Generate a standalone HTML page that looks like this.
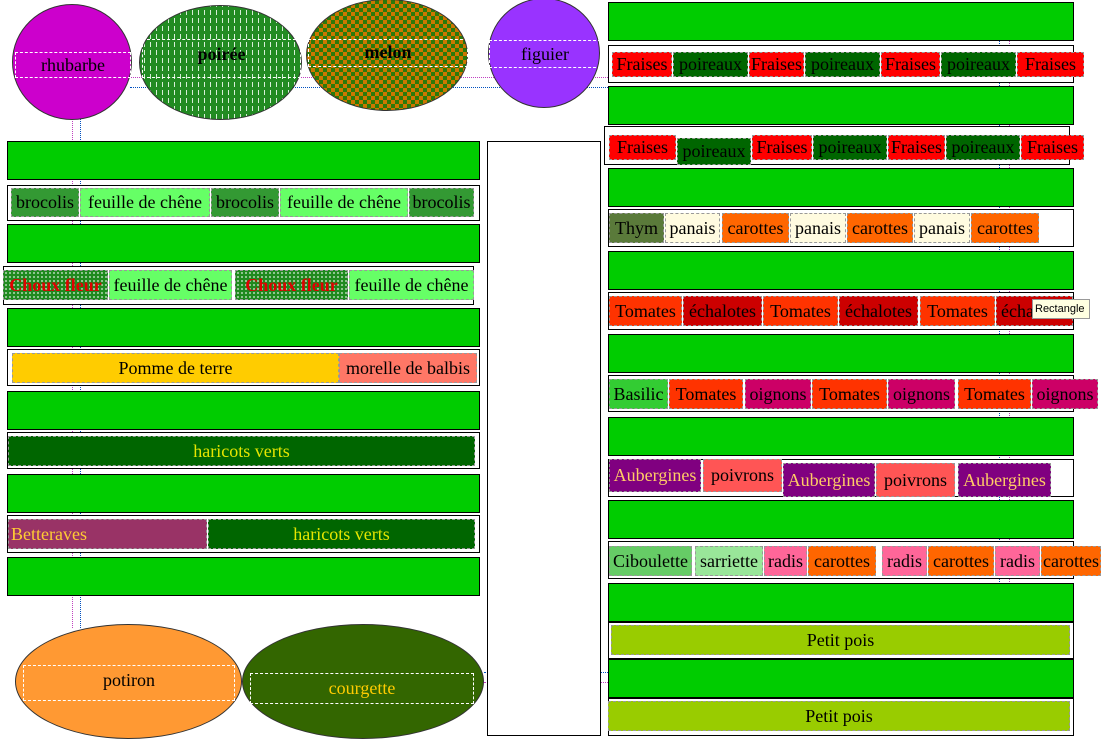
<!DOCTYPE html>
<html><head><meta charset="utf-8"><style>
html,body{margin:0;padding:0;background:#fff;}
#root{position:relative;width:1101px;height:755px;overflow:hidden;background:#fff;font-family:"Liberation Serif",serif;font-size:18px;}
.a{position:absolute;box-sizing:border-box;}
.g{background:#00cc00;border:1px solid #000;}
.box{border:1px solid #000;background:#fff;}
.c{position:absolute;box-sizing:border-box;border:1px dashed #999;display:flex;align-items:center;justify-content:center;white-space:nowrap;overflow:hidden;color:#000;}
.ell{position:absolute;border:1px solid #333;border-radius:50%;box-sizing:border-box;}
.lbl{position:absolute;display:flex;align-items:center;justify-content:center;box-sizing:border-box;border:1px dashed #fff;}
.gl{position:absolute;}
</style></head><body>
<div id="root">
<div class="gl" style="left:130px;top:77px;width:478px;border-top:1px dotted #c040c0"></div>
<div class="gl" style="left:130px;top:87px;width:478px;border-top:1px dotted #0050c0"></div>
<div class="gl" style="left:72px;top:118px;height:510px;border-left:1px dotted #c040c0"></div>
<div class="gl" style="left:80px;top:118px;height:510px;border-left:1px dotted #0050c0"></div>
<div class="gl" style="left:484px;top:672px;width:124px;border-top:1px dotted #0050c0"></div>
<div class="gl" style="left:484px;top:682px;width:124px;border-top:1px dotted #c040c0"></div>
<div class="gl" style="left:999px;top:40px;height:620px;border-left:1px dotted #0050c0"></div>
<div class="gl" style="left:1009px;top:40px;height:620px;border-left:1px dotted #c040c0"></div>

<div class="ell" style="left:12px;top:4px;width:120px;height:116px;background:#cc00cc">
 <div class="lbl" style="left:2px;top:47px;width:116px;height:26px;">rhubarbe</div></div>
<div class="ell" style="left:139px;top:5px;width:163px;height:115px;background-color:#228b22;background-image:repeating-linear-gradient(0deg,transparent 0 5px,#228b22 5px 8px),repeating-linear-gradient(90deg,#228b22 0 4px,#d8efd8 4px 5px,#228b22 5px 6px);">
 <div class="lbl" style="left:2px;top:33px;width:159px;height:39px;align-items:flex-start;font-weight:bold;padding-top:4px">poirée</div></div>
<div class="ell" style="left:306px;top:-1px;width:162px;height:112px;background-color:#cc7700;background-image:linear-gradient(45deg,#2a7a0a 25%,transparent 25%,transparent 75%,#2a7a0a 75%),linear-gradient(45deg,#2a7a0a 25%,transparent 25%,transparent 75%,#2a7a0a 75%);background-size:8px 8px;background-position:0 0,4px 4px;">
 <div class="lbl" style="left:1px;top:39px;width:160px;height:28px;font-weight:bold;align-items:flex-start;padding-top:2px">melon</div></div>
<div class="ell" style="left:488px;top:-2px;width:112px;height:110px;background:#9933ff">
 <div class="lbl" style="left:0;top:41px;width:112px;height:28px;">figuier</div></div>

<div class="ell" style="left:15px;top:624px;width:227px;height:115px;background:#ff9933">
 <div class="lbl" style="left:7px;top:40px;width:212px;height:36px;padding-bottom:6px">potiron</div></div>
<div class="ell" style="left:242px;top:624px;width:242px;height:115px;background:#336600">
 <div class="lbl" style="left:7px;top:48px;width:224px;height:31px;color:#ffcc00">courgette</div></div>

<div class="a box" style="left:487px;top:141px;width:114px;height:595px"></div>

<div class="a" style="left:1032px;top:299px;width:58px;height:20px;background:#ffffe1;border:1px solid #999;font-family:'Liberation Sans',sans-serif;font-size:11px;line-height:18px;padding-left:2px;z-index:5">Rectangle</div>
</div>
<script>
const root=document.getElementById('root');
const leftGreen=[141,224,308,391,474,557];
const rightGreen=[2,86,168,251,334,417,500,583,659];
const leftBoxes=[[7,185,473,36],[3,266,471,39],[7,349,473,37],[7,432,473,37],[7,515,473,38]];
const rightBoxes=[[608,45,466,38],[604,126,466,39],[608,209,466,38],[608,292,466,38],[608,375,466,37],[608,459,466,38],[608,541,466,38],[608,622,466,37],[608,698,466,38]];
const cells=[
 ['brocolis',11,79,188,217,'#339933','#000'],['feuille de chêne',80,210,188,217,'#66ff66','#000'],['brocolis',211,279,188,217,'#339933','#000'],['feuille de chêne',280,408,188,217,'#66ff66','#000'],['brocolis',409,474,188,217,'#339933','#000'],
 ['Choux fleur',3,108,270,300,'#1f8a1f','#e00000',1],['feuille de chêne',109,232,270,300,'#66ff66','#000'],['Choux fleur',235,348,270,300,'#1f8a1f','#e00000',1],['feuille de chêne',349,474,270,300,'#66ff66','#000'],
 ['Pomme de terre',12,339,353,383,'#ffcc00','#000'],['morelle de balbis',339,477,353,383,'#ff7766','#000'],
 ['haricots verts',8,475,436,466,'#006600','#e6e600'],
 ['Betteraves',8,207,519,549,'#993366','#ffcc33'],['haricots verts',208,475,519,549,'#006600','#e6e600'],
 ['Fraises',612,672,52,77,'#ff0000','#000'],['poireaux',673,748,52,77,'#006600','#000'],['Fraises',749,804,52,77,'#ff0000','#000'],['poireaux',805,880,52,77,'#006600','#000'],['Fraises',881,940,52,77,'#ff0000','#000'],['poireaux',941,1016,52,77,'#006600','#000'],['Fraises',1017,1084,52,77,'#ff0000','#000'],
 ['Fraises',609,676,135,160,'#ff0000','#000'],['poireaux',677,751,138,165,'#006600','#000'],['Fraises',752,812,135,160,'#ff0000','#000'],['poireaux',813,887,135,160,'#006600','#000'],['Fraises',888,945,135,160,'#ff0000','#000'],['poireaux',946,1020,135,160,'#006600','#000'],['Fraises',1021,1084,135,160,'#ff0000','#000'],
 ['Thym',609,664,213,243,'#5a7a3a','#000'],['panais',665,720,213,243,'#fffbe0','#000'],['carottes',722,789,213,243,'#ff6600','#000'],['panais',790,846,213,243,'#fffbe0','#000'],['carottes',847,913,213,243,'#ff6600','#000'],['panais',914,970,213,243,'#fffbe0','#000'],['carottes',971,1039,213,243,'#ff6600','#000'],
 ['Tomates',609,682,296,326,'#ff3300','#000'],['échalotes',683,762,296,326,'#cc0000','#000'],['Tomates',763,838,296,326,'#ff3300','#000'],['échalotes',839,918,296,326,'#cc0000','#000'],['Tomates',920,995,296,326,'#ff3300','#000'],['échalotes',996,1073,296,326,'#cc0000','#000'],
 ['Basilic',609,668,379,409,'#33cc33','#000'],['Tomates',669,743,379,409,'#ff3300','#000'],['oignons',745,811,379,409,'#cc0066','#000'],['Tomates',812,887,379,409,'#ff3300','#000'],['oignons',888,955,379,409,'#cc0066','#000'],['Tomates',958,1031,379,409,'#ff3300','#000'],['oignons',1032,1098,379,409,'#cc0066','#000'],
 ['Aubergines',609,701,459,492,'#800080','#ffcc66'],['poivrons',703,782,459,492,'#ff5555','#000'],['Aubergines',783,875,463,497,'#800080','#ffcc66'],['poivrons',876,955,463,497,'#ff5555','#000'],['Aubergines',958,1051,463,497,'#800080','#ffcc66'],
 ['Ciboulette',609,692,546,576,'#66cc66','#000'],['sarriette',695,763,546,576,'#99e699','#000'],['radis',764,807,546,576,'#ff6699','#000'],['carottes',808,876,546,576,'#ff6600','#000'],['radis',882,927,546,576,'#ff6699','#000'],['carottes',928,994,546,576,'#ff6600','#000'],['radis',995,1040,546,576,'#ff6699','#000'],['carottes',1041,1101,546,576,'#ff6600','#000'],
 ['Petit pois',611,1070,625,655,'#99cc00','#000'],['Petit pois',608,1070,701,731,'#99cc00','#000']
];
function mk(cls,x,y,w,h){const d=document.createElement('div');d.className=cls;d.style.left=x+'px';d.style.top=y+'px';d.style.width=w+'px';d.style.height=h+'px';root.insertBefore(d,root.lastElementChild);return d;}
leftGreen.forEach(y=>{const d=mk('a g',7,y,473,39);

});
rightGreen.forEach(y=>{const d=mk('a g',608,y,466,39);

});
leftBoxes.concat(rightBoxes).forEach(b=>{const d=mk('a box',b[0],b[1],b[2],b[3]);

});
cells.forEach(c=>{const d=mk('c',c[1],c[3],c[2]-c[1],c[4]-c[3]);d.style.background=c[5];d.style.color=c[6];
if(c[7]){d.style.fontWeight='bold';d.style.backgroundImage='radial-gradient(circle,rgba(255,255,255,.6) 0.8px,transparent 1.2px)';d.style.backgroundSize='4px 4px';}
if(c[0]==='Betteraves'){d.style.justifyContent='flex-start';d.style.paddingLeft='2px';}
d.textContent=c[0];

});
</script>
</body></html>
